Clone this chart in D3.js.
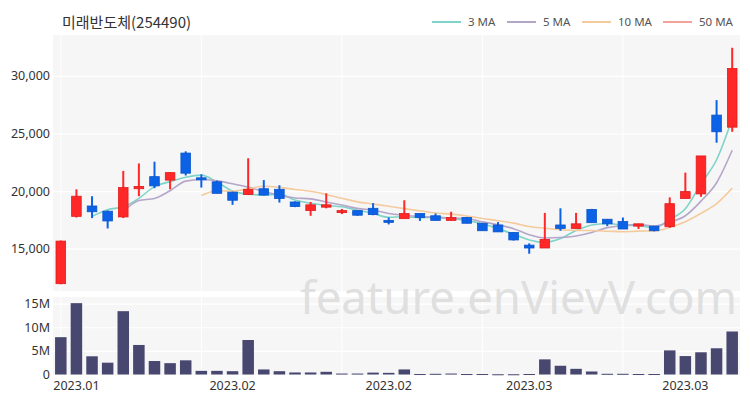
<!DOCTYPE html>
<html>
<head>
<meta charset="utf-8">
<script src="https://cdn.jsdelivr.net/npm/d3@7"></script>
<style>
html,body{margin:0;padding:0;background:#fff;}
svg{display:block;}
</style>
</head>
<body>
<svg id="chart" width="750" height="400"></svg>
<script>
// ---- data ----
const title = "미래반도체(254490)";
const openP  = [11950,17800,18700,18250,17750,20200,21250,20950,23300,21150,20800,19900,19700,20200,20150,19050,18300,18600,18150,18300,18500,17450,17600,18050,17850,17450,17700,17200,17050,16400,15300,15050,17050,16750,18400,17550,17350,16950,16950,16900,19350,19750,26600,25550];
const highP  = [15700,20150,19550,18300,21750,22400,22550,21650,23450,21450,20900,19950,22850,20950,20500,19100,19050,19800,18450,18350,18950,17700,19200,18050,18050,18200,17750,17200,17300,16400,15450,18100,18500,18100,18450,17550,17700,17150,16950,19450,21600,23050,27900,32450];
const lowP   = [11900,17700,17650,16750,17650,19550,20250,20150,21350,20300,19800,18800,19650,19600,19000,18600,17850,18500,18000,17850,17900,17100,17600,17400,17450,17450,17200,16550,16450,15700,14550,15050,16550,16750,17250,16950,16700,16700,16500,16800,19350,19500,24200,25150];
const closeP = [15650,19550,18200,17400,20300,20400,20450,21600,21550,21000,19800,19200,20150,19650,19350,18650,18800,18800,18300,17900,17950,17300,18050,17700,17450,17700,17200,16550,16450,15750,15050,15800,16750,17150,17250,17150,16700,17150,16550,18900,19950,23050,25150,30650];
const volumeM = [7.9,15.1,3.85,2.5,13.4,6.25,2.85,2.4,3.0,0.77,0.77,0.7,7.3,1.07,0.7,0.43,0.43,0.57,0.2,0.2,0.4,0.35,1.07,0.1,0.15,0.2,0.1,0.1,0.05,0.05,0.1,3.2,1.85,1.2,0.64,0.15,0.15,0.1,0.1,5.1,3.9,4.7,5.55,9.1];
const priceTicks = [15000,20000,25000,30000];
const volumeTicks = [0,5,10,15];
const volumeTickLabels = ["0","5M","10M","15M"];
const xTickIndex = [1,11,21,30,40];
const xTickLabels = ["2023.01","2023.02","2023.02","2023.03","2023.03"];
const xGridIndex = [0,9,18,27,36];
const maPeriods = [3,5,10,50];
const maNames = ["3 MA","5 MA","10 MA","50 MA"];
const maColors = ["#7fd4c9","#b4a6c9","#f5cb9d","#f5a19c"];
const watermark = "feature.enVievV.com";

// ---- layout ----
const svg = d3.select("#chart");
const L = 53, R = 740;
const mainTop = 35, mainBot = 291;
const volTop = 297, volBot = 375;
const UP = "#ff2727", UPS = "#e01d1d", DN = "#0c62e6", DNS = "#0a55c9";
const font = "'Noto Sans', 'Noto Sans CJK KR', sans-serif";

const idx = d3.range(closeP.length);
const x = d3.scaleBand().domain(idx).range([L, R]).paddingInner(0).paddingOuter(0);
const cx = i => x(i) + x.bandwidth() / 2;
const y = d3.scaleLinear().domain([11400, 33560]).range([290, 35]);
const yv = d3.scaleLinear().domain([0, 16.4]).range([374.5, 297]);

// panels
svg.append("rect").attr("x", L).attr("y", mainTop).attr("width", R - L).attr("height", mainBot - mainTop).attr("fill", "#f6f6f7");
svg.append("rect").attr("x", L).attr("y", volTop).attr("width", R - L).attr("height", volBot - volTop).attr("fill", "#f6f6f7");

// vertical grid
svg.append("g").selectAll("line").data(xGridIndex).join("line")
  .attr("x1", d => cx(d)).attr("x2", d => cx(d))
  .attr("y1", mainTop).attr("y2", mainBot)
  .attr("stroke", "#ffffff").attr("stroke-width", 1);
svg.append("g").selectAll("line").data(xGridIndex).join("line")
  .attr("x1", d => cx(d)).attr("x2", d => cx(d))
  .attr("y1", volTop).attr("y2", volBot)
  .attr("stroke", "#ffffff").attr("stroke-width", 1);

// price axis
const yAxis = d3.axisLeft(y).tickValues(priceTicks).tickFormat(d3.format(",")).tickSize(-(R - L)).tickPadding(4);
const gy = svg.append("g").attr("transform", `translate(${L},0)`).call(yAxis);
gy.select(".domain").remove();
gy.selectAll(".tick line").attr("stroke", "#ffffff").attr("stroke-width", 1.2);
gy.selectAll(".tick text").attr("fill", "#333").style("font-family", font).style("font-size", "12.5px").attr("x", -3);

// volume axis
const vAxis = d3.axisLeft(yv).tickValues(volumeTicks).tickFormat((d, i) => volumeTickLabels[i]).tickSize(-(R - L)).tickPadding(4);
const gv = svg.append("g").attr("transform", `translate(${L},0)`).call(vAxis);
gv.select(".domain").remove();
gv.selectAll(".tick line").attr("stroke", d => d === 0 ? "none" : "#ffffff").attr("stroke-width", 1.2);
gv.selectAll(".tick text").attr("fill", "#333").style("font-family", font).style("font-size", "12.5px").attr("x", -3);

// x axis
const xAxis = d3.axisBottom(x).tickValues(xTickIndex).tickFormat((d, i) => xTickLabels[i]).tickSize(0).tickPadding(6);
const gx = svg.append("g").attr("transform", `translate(0,${volBot})`).call(xAxis);
gx.select(".domain").remove();
gx.selectAll(".tick text").attr("fill", "#333").style("font-family", font).style("font-size", "12.5px");

// watermark
svg.append("text").attr("x", 300).attr("y", 314).attr("textLength", 437).attr("lengthAdjust", "spacingAndGlyphs")
  .attr("fill", "#dcdcdc").attr("fill-opacity", 0.9)
  .style("font-family", "'Noto Sans', sans-serif").style("font-size", "46px")
  .text(watermark);

// volume bars
const vbw = 11.5;
svg.append("g").selectAll("rect").data(idx).join("rect")
  .attr("x", i => cx(i) - vbw / 2).attr("width", vbw)
  .attr("y", i => yv(volumeM[i])).attr("height", i => Math.max(1, yv(0) - yv(volumeM[i])))
  .attr("fill", "#474770");

// moving averages
function ma(p) {
  return idx.map(i => i < p - 1 ? null : d3.mean(closeP.slice(i - p + 1, i + 1)));
}
const line = d3.line().defined(d => d.v !== null).x(d => cx(d.i)).y(d => y(d.v)).curve(d3.curveMonotoneX);
maPeriods.forEach((p, k) => {
  const vals = ma(p).map((v, i) => ({ i, v }));
  if (vals.some(d => d.v !== null)) {
    svg.append("path").datum(vals).attr("d", line).attr("fill", "none")
      .attr("stroke", maColors[k]).attr("stroke-width", 1.6);
  }
});

// candles
const bw = 9.6;
const cg = svg.append("g");
idx.forEach(i => {
  const up = closeP[i] >= openP[i];
  const fill = up ? UP : DN, st = up ? UPS : DNS;
  cg.append("line").attr("x1", cx(i)).attr("x2", cx(i))
    .attr("y1", y(highP[i])).attr("y2", y(lowP[i]))
    .attr("stroke", fill).attr("stroke-width", 2);
  const top = y(Math.max(openP[i], closeP[i])), bot = y(Math.min(openP[i], closeP[i]));
  cg.append("rect").attr("x", cx(i) - bw / 2).attr("width", bw)
    .attr("y", top).attr("height", Math.max(2, bot - top))
    .attr("fill", fill).attr("stroke", st).attr("stroke-width", 0.8);
});

// title
svg.append("text").attr("x", 62).attr("y", 28)
  .attr("fill", "#333").style("font-family", "'Noto Sans CJK KR', sans-serif").style("font-size", "15px")
  .text(title);

// legend
const legX = [432, 507, 582, 663];
const lg = svg.append("g");
maNames.forEach((n, k) => {
  lg.append("line").attr("x1", legX[k]).attr("x2", legX[k] + 29).attr("y1", 22).attr("y2", 22)
    .attr("stroke", maColors[k]).attr("stroke-width", 2);
  lg.append("text").attr("x", legX[k] + 36).attr("y", 26)
    .attr("fill", "#555").style("font-family", font).style("font-size", "11.5px").text(n);
});
</script>
</body>
</html>
